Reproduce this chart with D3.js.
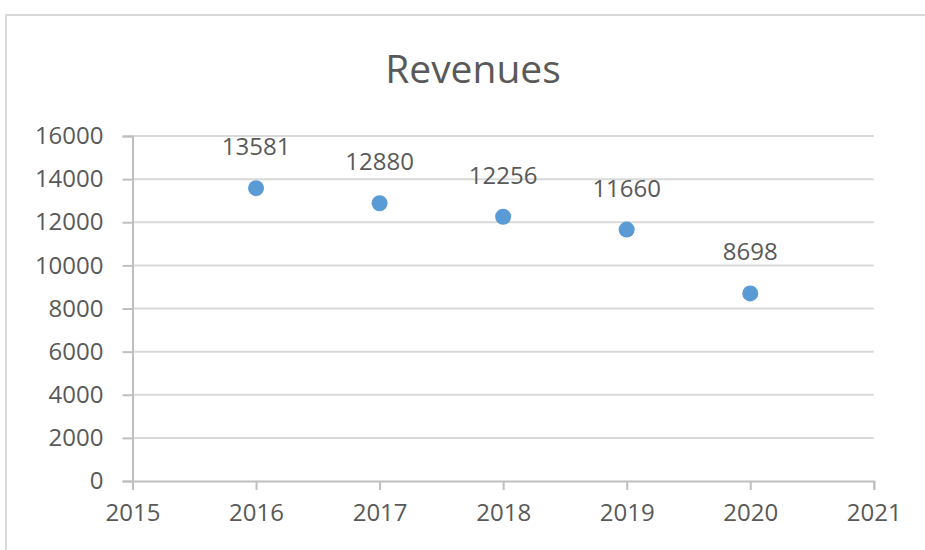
<!DOCTYPE html>
<html>
<head>
<meta charset="utf-8">
<script src="https://cdn.jsdelivr.net/npm/d3@7"></script>
<style>
  html, body { margin: 0; padding: 0; background: #fff; }
  svg { display: block; }
  text { font-family: "Open Sans", sans-serif; fill: #595959; }
</style>
</head>
<body>
<svg id="chart" width="925" height="550"></svg>
<script>
const title = "Revenues";
const years = [2016, 2017, 2018, 2019, 2020];
const revenues = [13581, 12880, 12256, 11660, 8698];
const xTicks = [2015, 2016, 2017, 2018, 2019, 2020, 2021];
const yTicks = [0, 2000, 4000, 6000, 8000, 10000, 12000, 14000, 16000];

const svg = d3.select("#chart");
const W = 925, H = 550;

// chart area border
svg.append("rect")
  .attr("x", 6).attr("y", 15)
  .attr("width", W + 10).attr("height", H + 10)
  .attr("fill", "#fff")
  .attr("stroke", "#d9d9d9").attr("stroke-width", 2);

const x = d3.scaleLinear().domain([2015, 2021]).range([132.5, 873.8]);
const y = d3.scaleLinear().domain([0, 16000]).range([481, 136]);

// title
svg.append("text")
  .attr("x", 473).attr("y", 83)
  .attr("text-anchor", "middle")
  .style("font-size", "39px")
  .text(title);

// gridlines
svg.append("g")
  .selectAll("line")
  .data(yTicks.filter(d => d !== 0))
  .join("line")
  .attr("x1", x.range()[0]).attr("x2", x.range()[1])
  .attr("y1", d => y(d)).attr("y2", d => y(d))
  .attr("stroke", "#d9d9d9").attr("stroke-width", 2);

// y axis
const yAxis = svg.append("g")
  .attr("transform", `translate(${x.range()[0]},0)`)
  .call(d3.axisLeft(y).tickValues(yTicks).tickSize(10).tickPadding(19).tickFormat(d3.format("d")));
yAxis.select(".domain").attr("stroke", "#bfbfbf").attr("stroke-width", 2);
yAxis.selectAll(".tick line").attr("stroke", "#bfbfbf").attr("stroke-width", 2);
yAxis.selectAll(".tick text").style("font-size", "24px").attr("fill", "#595959").attr("font-family", null);

// x axis
const xAxis = svg.append("g")
  .attr("transform", `translate(0,${y(0)})`)
  .call(d3.axisBottom(x).tickValues(xTicks).tickSize(9).tickPadding(14).tickFormat(d3.format("d")));
xAxis.select(".domain").attr("stroke", "#bfbfbf").attr("stroke-width", 2);
xAxis.selectAll(".tick line").attr("stroke", "#bfbfbf").attr("stroke-width", 2);
xAxis.selectAll(".tick text").style("font-size", "24px").attr("fill", "#595959").attr("font-family", null);

const pts = years.map((yr, i) => ({ yr, v: revenues[i] }));

// dots
svg.append("g")
  .selectAll("circle")
  .data(pts)
  .join("circle")
  .attr("cx", d => x(d.yr)).attr("cy", d => y(d.v))
  .attr("r", 8)
  .attr("fill", "#5b9bd5");

// labels
svg.append("g")
  .selectAll("text")
  .data(pts)
  .join("text")
  .attr("x", d => x(d.yr)).attr("y", d => y(d.v) - 33)
  .attr("text-anchor", "middle")
  .style("font-size", "24px")
  .text(d => d.v);
</script>
</body>
</html>
